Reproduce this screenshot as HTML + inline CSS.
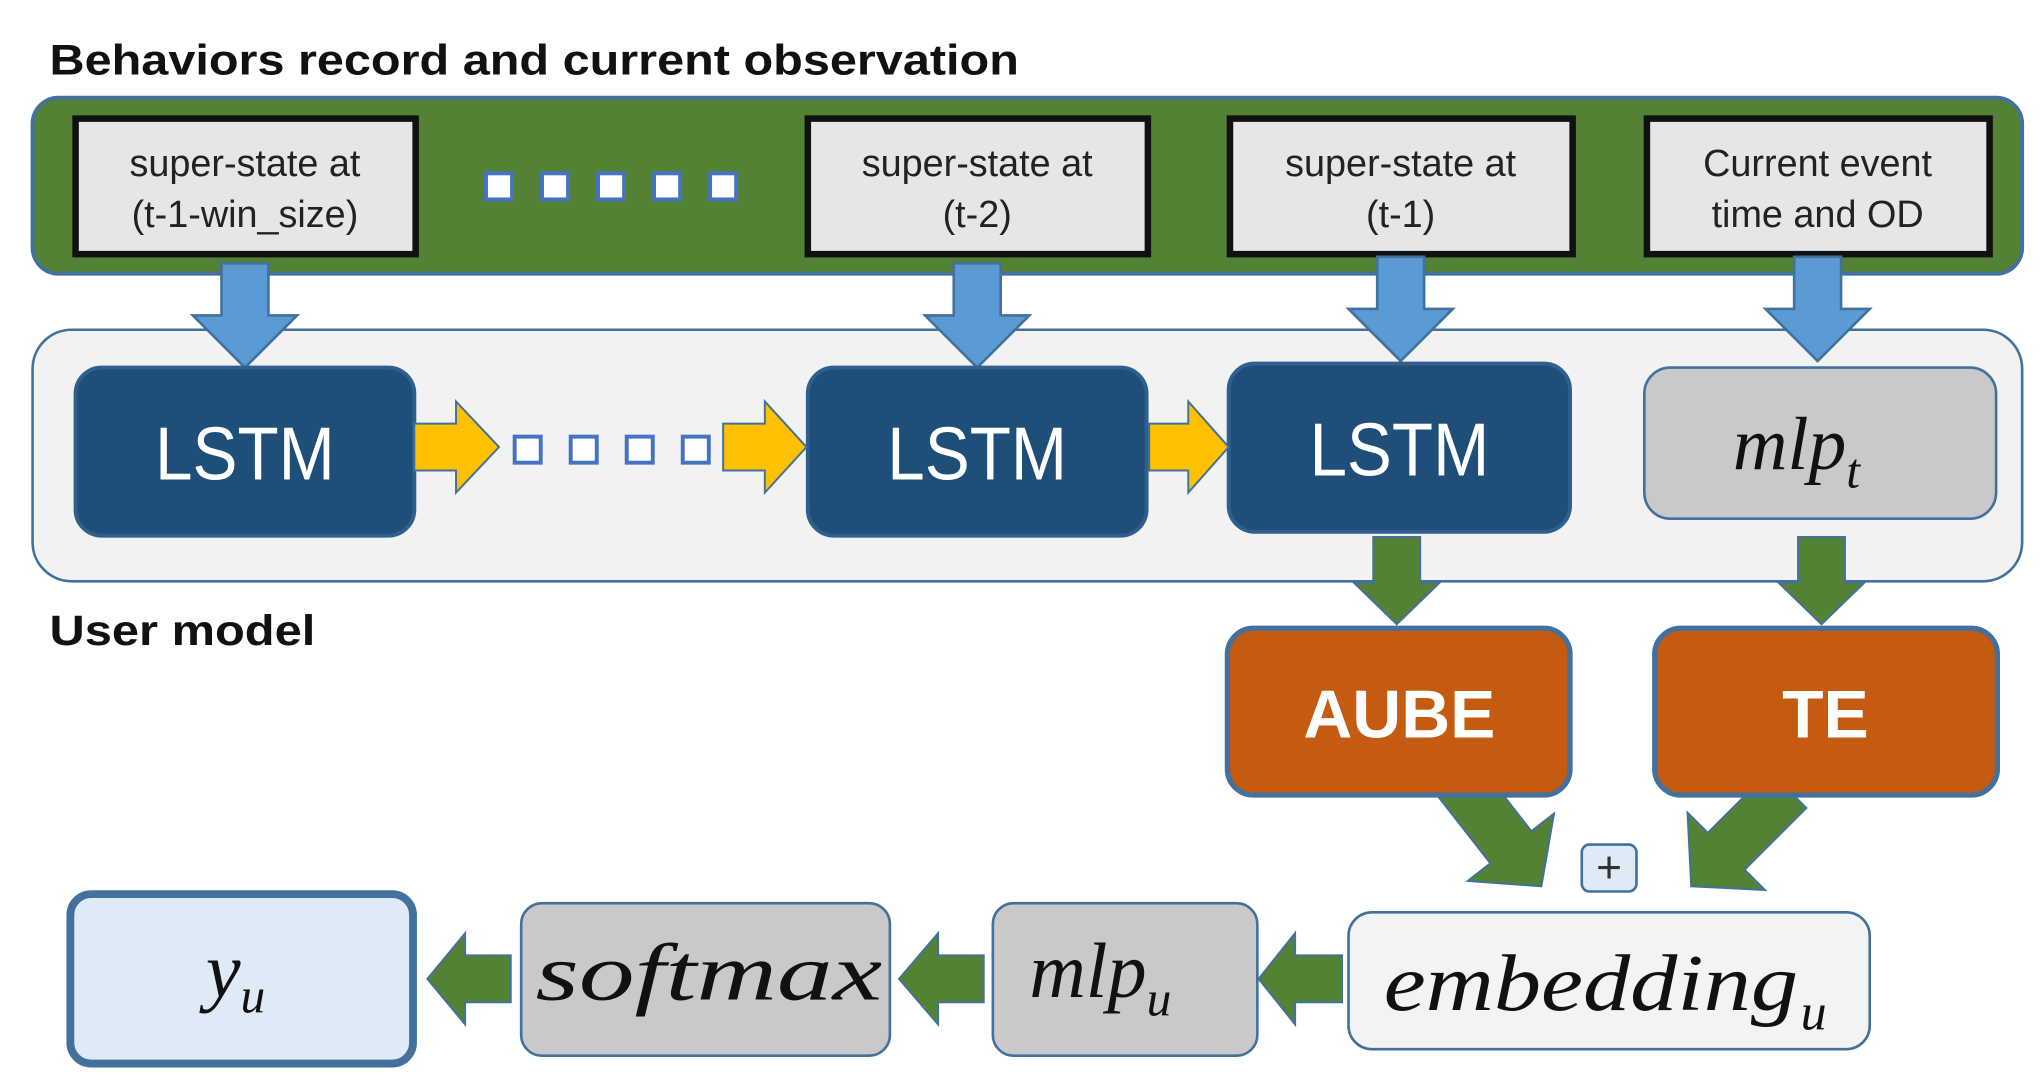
<!DOCTYPE html>
<html><head><meta charset="utf-8"><style>
html,body{margin:0;padding:0;background:#fff;}
svg{display:block}
</style></head><body>
<svg width="2043" height="1087" viewBox="0 0 1568 834" preserveAspectRatio="none" xmlns="http://www.w3.org/2000/svg" font-family="Liberation Sans, sans-serif">
<defs>
<path id="bdown" d="M-18,-80 L18,-80 L18,-40 L40,-40 L0,0 L-40,-40 L-18,-40 Z"/>
</defs>
<text x="38" y="57" font-size="33" font-weight="bold" fill="#111" textLength="744" lengthAdjust="spacingAndGlyphs">Behaviors record and current observation</text>
<rect x="25" y="75" width="1527" height="135" rx="20" fill="#548235" stroke="#41719c" stroke-width="3"/>
<g fill="#e7e6e6" stroke="#111" stroke-width="5">
<rect x="58" y="91" width="261" height="104"/>
<rect x="620" y="91" width="261" height="104"/>
<rect x="944" y="91" width="263" height="104"/>
<rect x="1264" y="91" width="263" height="104"/>
</g>
<g font-size="29" fill="#222" text-anchor="middle">
<text x="188" y="135">super-state at</text><text x="188" y="174">(t-1-win_size)</text>
<text x="750" y="135">super-state at</text><text x="750" y="174">(t-2)</text>
<text x="1075" y="135">super-state at</text><text x="1075" y="174">(t-1)</text>
<text x="1395" y="135">Current event</text><text x="1395" y="174">time and OD</text>
</g>
<g fill="#fff" stroke="#4472c4" stroke-width="3">
<rect x="373" y="133" width="20" height="20"/><rect x="416" y="133" width="20" height="20"/><rect x="459" y="133" width="20" height="20"/><rect x="502" y="133" width="20" height="20"/><rect x="545" y="133" width="20" height="20"/>
</g>
<rect x="25" y="253" width="1527" height="193" rx="30" fill="#f2f2f2" stroke="#41719c" stroke-width="2"/>
<g fill="#5b9bd5" stroke="#41719c" stroke-width="2">
<use href="#bdown" transform="translate(188,282)"/>
<use href="#bdown" transform="translate(750,282)"/>
<use href="#bdown" transform="translate(1075,277)"/>
<use href="#bdown" transform="translate(1395,277)"/>
</g>
<g fill="#1f4e79" stroke="#2e5f8e" stroke-width="3">
<rect x="58" y="282" width="260" height="129" rx="20"/>
<rect x="620" y="282" width="260" height="129" rx="20"/>
<rect x="943" y="279" width="262" height="129" rx="20"/>
</g>
<rect x="1262" y="282" width="270" height="116" rx="20" fill="#c9c9c9" stroke="#41719c" stroke-width="2"/>
<g font-size="58" fill="#fff">
<text x="119" y="368" textLength="138" lengthAdjust="spacingAndGlyphs">LSTM</text>
<text x="681" y="368" textLength="138" lengthAdjust="spacingAndGlyphs">LSTM</text>
<text x="1005" y="365" textLength="138" lengthAdjust="spacingAndGlyphs">LSTM</text>
</g>
<text x="1330" y="360" font-family="Liberation Serif, serif" font-style="italic" font-size="58" fill="#111">mlp<tspan font-size="38" dy="14">t</tspan></text>
<g fill="#ffc000" stroke="#41719c" stroke-width="1.5">
<path d="M318,325 L350,325 L350,308 L383,343 L350,378 L350,361 L318,361 Z"/>
<path d="M555,325 L587,325 L587,308 L619,343 L587,378 L587,361 L555,361 Z"/>
<path d="M882,325 L912,325 L912,308 L943,343 L912,378 L912,361 L882,361 Z"/>
</g>
<g fill="#fff" stroke="#4472c4" stroke-width="3">
<rect x="395" y="335" width="20" height="20"/><rect x="438" y="335" width="20" height="20"/><rect x="481" y="335" width="20" height="20"/><rect x="524" y="335" width="20" height="20"/>
</g>
<text x="38" y="495" font-size="33" font-weight="bold" fill="#111" textLength="204" lengthAdjust="spacingAndGlyphs">User model</text>
<g fill="#548235" stroke="#41719c" stroke-width="1.5">
<path d="M1054,412 L1090,412 L1090,447 L1105,447 L1072,479 L1039,447 L1054,447 Z"/>
<path d="M1380,412 L1416,412 L1416,447 L1431,447 L1398,479 L1365,447 L1380,447 Z"/>
<path d="M-20,-105 L20,-105 L20,-38 L42,-38 L0,0 L-42,-38 L-20,-38 Z" transform="translate(1183,680) rotate(-38)"/>
<path d="M-20,-105 L20,-105 L20,-38 L42,-38 L0,0 L-42,-38 L-20,-38 Z" transform="translate(1298,680) rotate(45)"/>
<path d="M1030,733 L994,733 L994,716 L966,751 L994,786 L994,769 L1030,769 Z"/>
<path d="M755,733 L720,733 L720,716 L690,751 L720,786 L720,769 L755,769 Z"/>
<path d="M392,733 L357,733 L357,716 L328,751 L357,786 L357,769 L392,769 Z"/>
</g>
<g fill="#c55a11" stroke="#41719c" stroke-width="4">
<rect x="942" y="482" width="263" height="128" rx="20"/>
<rect x="1270" y="482" width="263" height="128" rx="20"/>
</g>
<g font-size="52" font-weight="bold" fill="#fff" text-anchor="middle">
<text x="1074" y="566">AUBE</text><text x="1401" y="566">TE</text>
</g>
<rect x="1214" y="648" width="42" height="36" rx="6" fill="#deebf7" stroke="#41719c" stroke-width="2"/>
<text x="1235" y="677" font-size="34" text-anchor="middle" fill="#333">+</text>
<rect x="1035" y="700" width="400" height="105" rx="18" fill="#f3f3f3" stroke="#41719c" stroke-width="2"/>
<text x="1062" y="775" font-family="Liberation Serif, serif" font-style="italic" font-size="62" fill="#111" textLength="318" lengthAdjust="spacingAndGlyphs">embedding</text>
<text x="1382" y="790" font-family="Liberation Serif, serif" font-style="italic" font-size="40" fill="#111">u</text>
<rect x="762" y="693" width="203" height="117" rx="16" fill="#c9c9c9" stroke="#41719c" stroke-width="2"/>
<text x="790" y="765" font-family="Liberation Serif, serif" font-style="italic" font-size="60" fill="#111">mlp<tspan font-size="38" dy="14">u</tspan></text>
<rect x="400" y="693" width="283" height="117" rx="16" fill="#c9c9c9" stroke="#41719c" stroke-width="2"/>
<text x="411" y="767" font-family="Liberation Serif, serif" font-style="italic" font-size="62" fill="#111" textLength="266" lengthAdjust="spacingAndGlyphs">softmax</text>
<rect x="54" y="686" width="263" height="130" rx="16" fill="#deebf7" stroke="#41719c" stroke-width="6"/>
<text x="158" y="765" font-family="Liberation Serif, serif" font-style="italic" font-size="60" fill="#111">y<tspan font-size="38" dy="12">u</tspan></text>
</svg>
</body></html>
